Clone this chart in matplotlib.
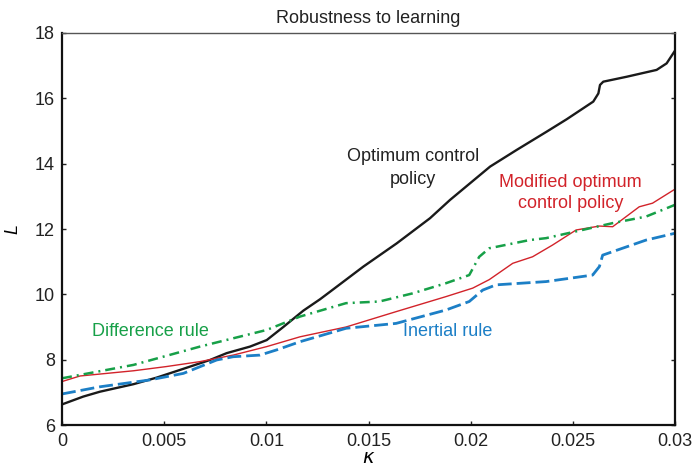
import matplotlib
matplotlib.use("Agg")
import matplotlib.pyplot as plt

plt.rcParams['font.family'] = ['Liberation Sans', 'DejaVu Sans']

# Optimum control policy (black)
opt_x = [0.0, 0.00104, 0.00186, 0.0035, 0.00463, 0.00594, 0.00724, 0.00806, 0.0092, 0.01002,
         0.01083, 0.01181, 0.01263, 0.01312, 0.01475, 0.01638, 0.01801, 0.01899, 0.01997,
         0.02095, 0.02225, 0.02372, 0.0247, 0.026, 0.02625, 0.02633, 0.02649, 0.02763,
         0.0291, 0.02959, 0.03]
opt_y = [6.63, 6.87, 7.02, 7.25, 7.45, 7.72, 7.99, 8.2, 8.4, 8.6,
         9.0, 9.5, 9.85, 10.08, 10.85, 11.56, 12.33, 12.89, 13.4,
         13.91, 14.42, 14.98, 15.36, 15.9, 16.15, 16.41, 16.51, 16.66,
         16.87, 17.07, 17.46]

# Modified optimum control policy (red)
mod_x = [0.0, 0.00088, 0.0035, 0.00512, 0.00675, 0.00838, 0.01002, 0.01165, 0.0139,
         0.01635, 0.01879, 0.0201, 0.02091, 0.02206, 0.02303, 0.02401, 0.02516,
         0.0263, 0.02695, 0.02825, 0.0289, 0.03]
mod_y = [7.33, 7.5, 7.66, 7.79, 7.94, 8.14, 8.4, 8.7, 9.0,
         9.47, 9.93, 10.19, 10.45, 10.95, 11.15, 11.51, 11.97,
         12.09, 12.07, 12.68, 12.79, 13.22]

# Difference rule (green)
dif_x = [0.0, 0.0035, 0.00675, 0.01002, 0.01165, 0.0139, 0.01553, 0.01716, 0.01879,
         0.01993, 0.02042, 0.02091, 0.02287, 0.02369, 0.02695, 0.02858, 0.03]
dif_y = [7.43, 7.84, 8.4, 8.91, 9.32, 9.73, 9.78, 10.03, 10.34,
         10.59, 11.15, 11.41, 11.66, 11.72, 12.18, 12.38, 12.74]

# Inertial rule (blue)
ine_x = [0.0, 0.00186, 0.0043, 0.00594, 0.00757, 0.00838, 0.00969, 0.01051, 0.01165,
         0.0139, 0.01635, 0.01879, 0.01993, 0.02059, 0.02124, 0.02369, 0.02597,
         0.0263, 0.02646, 0.02858, 0.03]
ine_y = [6.95, 7.17, 7.38, 7.58, 7.99, 8.09, 8.14, 8.3, 8.55,
         8.96, 9.11, 9.52, 9.78, 10.13, 10.29, 10.39, 10.59,
         10.85, 11.2, 11.66, 11.87]

x_ticks = [0, 0.005, 0.01, 0.015, 0.02, 0.025, 0.03]
x_tick_labels = ['0', '0.005', '0.01', '0.015', '0.02', '0.025', '0.03']
y_ticks = [6, 8, 10, 12, 14, 16, 18]

BLACK = '#1a1a1a'
RED = '#d2232a'
GREEN = '#17a048'
BLUE = '#1c7fc6'

fig = plt.figure(figsize=(6.96, 4.73), dpi=100)
ax = fig.add_axes([62/696, 1-425/473, (675-62)/696, (425-33)/473])

ax.plot(opt_x, opt_y, color=BLACK, lw=1.7)
ax.plot(mod_x, mod_y, color=RED, lw=1.0)
ax.plot(dif_x, dif_y, color=GREEN, lw=1.8, dashes=(4.0, 2.0, 0.8, 2.0))
ax.plot(ine_x, ine_y, color=BLUE, lw=2.0, dashes=(5.0, 1.8))

ax.set_xlim(0, 0.03)
ax.set_ylim(6, 18)
ax.set_xticks(x_ticks)
ax.set_xticklabels(x_tick_labels)
ax.set_yticks(y_ticks)
ax.tick_params(direction='in', length=3, width=1, labelsize=13, colors='#222222',
               right=True, top=False, pad=5)
ax.tick_params(axis='x', pad=6)

for s in ['left', 'bottom', 'right']:
    ax.spines[s].set_linewidth(1.6)
    ax.spines[s].set_color('#111111')
ax.spines['top'].set_linewidth(1.0)
ax.spines['top'].set_color('#555555')

ax.set_title('Robustness to learning', fontsize=13, pad=7, color='#222222')
ax.set_xlabel(r'$\kappa$', fontsize=14, labelpad=0)
ax.set_ylabel('L', fontsize=13, style='italic', labelpad=10)

ax.text(0.01718, 13.87, 'Optimum control\npolicy', ha='center', va='center',
        fontsize=13, color='#222222', linespacing=1.45)
ax.text(0.0249, 13.10, 'Modified optimum\ncontrol policy', ha='center', va='center',
        fontsize=13, color=RED, linespacing=1.35)
ax.text(0.00435, 8.86, 'Difference rule', ha='center', va='center',
        fontsize=13, color=GREEN)
ax.text(0.01888, 8.86, 'Inertial rule', ha='center', va='center',
        fontsize=13, color=BLUE)

fig.savefig('out.png', dpi=100)
